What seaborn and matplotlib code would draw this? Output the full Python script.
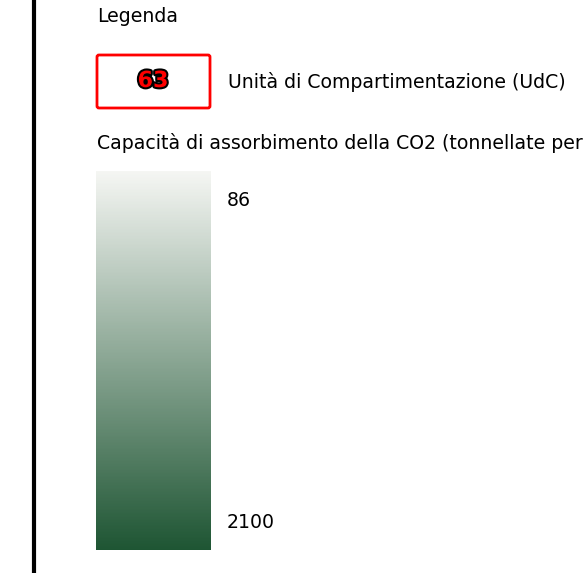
import numpy as np
import seaborn as sb
import matplotlib.pyplot as plt
import matplotlib.patheffects as pe
from matplotlib.colors import LinearSegmentedColormap
from matplotlib.patches import FancyBboxPatch

legend_title='Legenda'
udc_value='63'
udc_label='Unità di Compartimentazione (UdC)'
co2_title='Capacità di assorbimento della CO2 (tonnellate per'
co2_min=86
co2_max=2100
ramp_colors=['#f5f6f3','#1e5533']

sb.set_style('white')
plt.rcParams['font.family']=['DejaVu Sans']
plt.rcParams['text.color']='black'

fig=plt.figure(figsize=(5.85,5.73),dpi=100)
ax=fig.add_axes([0,0,1,1])
ax.set_xlim(0,585)
ax.set_ylim(573,0)
ax.axis('off')

# black frame line on the left
ax.plot([34,34],[0,573],color='black',lw=3)

fs=13.6
ax.text(97,16,legend_title,fontsize=fs,va='center',ha='left')

box=FancyBboxPatch((97,55),113,53,boxstyle='round,pad=0,rounding_size=2',
                   fill=False,edgecolor='#ff0000',lw=2)
ax.add_patch(box)
ax.text(153,81,udc_value,fontsize=16,fontweight='bold',color='#ff0000',
        ha='center',va='center',
        path_effects=[pe.withStroke(linewidth=3,foreground='black')])
ax.text(228,82,udc_label,fontsize=fs,va='center',ha='left')

ax.text(97,143,co2_title,fontsize=fs,va='center',ha='left')

# colour ramp
cmap=LinearSegmentedColormap.from_list('co2',ramp_colors)
values=np.linspace(co2_min,co2_max,256).reshape(-1,1)
cax=fig.add_axes([96/585,(573-550)/573,115/585,379/573])
sb.heatmap(values,cmap=cmap,cbar=False,xticklabels=False,yticklabels=False,ax=cax)

ax.text(227,200,str(co2_min),fontsize=fs,va='center',ha='left')
ax.text(227,522,str(co2_max),fontsize=fs,va='center',ha='left')

plt.savefig('out.png',dpi=100)
